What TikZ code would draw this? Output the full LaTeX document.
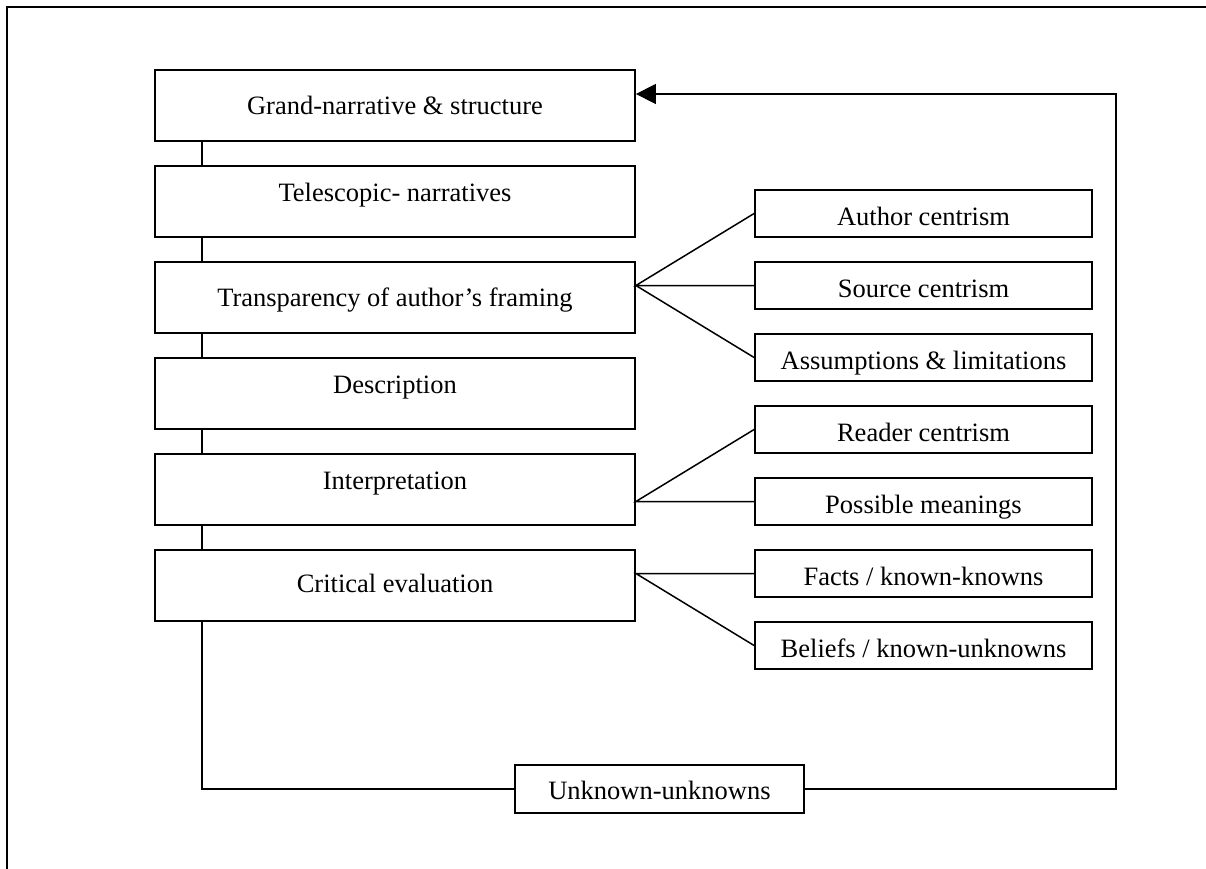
\documentclass[tikz,border=0pt]{standalone}
\usepackage{fontspec}
\setmainfont{Liberation Serif}
\usetikzlibrary{arrows.meta}
\begin{document}
\begin{tikzpicture}[x=1pt,y=-1pt,
  boxtext/.style={font=\fontsize{26.5}{30}\selectfont,text height=17.5pt,text depth=0pt,inner sep=0pt,align=center},
  mainbox/.style={draw,line width=1.8pt,boxtext,minimum width=480pt,minimum height=71pt},
  subbox/.style={draw,line width=1.8pt,boxtext,minimum width=337pt,minimum height=47pt},
  unkbox/.style={draw,line width=1.8pt,boxtext,minimum width=289pt,minimum height=48pt},
  link/.style={line width=1.5pt},
  frameline/.style={line width=2pt}]
\useasboundingbox (0,0) rectangle (1206,869);
\draw[frameline] (7,869) -- (7,7) -- (1206,7);

% main column
\node[mainbox] (m1) at (395,105.5) {Grand-narrative \& structure};
\node[mainbox] (m2) at (395,201.5) {\raisebox{9pt}{Telescopic- narratives}};
\node[mainbox] (m3) at (395,297.5) {Transparency of author’s framing};
\node[mainbox] (m4) at (395,393.5) {\raisebox{9pt}{Description}};
\node[mainbox] (m5) at (395,489.5) {\raisebox{9pt}{Interpretation}};
\node[mainbox] (m6) at (395,585.5) {\raisebox{1.5pt}{Critical evaluation}};

% side boxes
\node[subbox] (s1) at (923.5,213.5) {\raisebox{-3pt}{Author centrism}};
\node[subbox] (s2) at (923.5,285.5) {\raisebox{-3pt}{Source centrism}};
\node[subbox] (s3) at (923.5,357.5) {\raisebox{-3pt}{Assumptions \& limitations}};
\node[subbox] (s4) at (923.5,429.5) {\raisebox{-3pt}{Reader centrism}};
\node[subbox] (s5) at (923.5,501.5) {\raisebox{-3pt}{Possible meanings}};
\node[subbox] (s6) at (923.5,573.5) {\raisebox{-3pt}{Facts / known-knowns}};
\node[subbox] (s7) at (923.5,645.5) {\raisebox{-3pt}{Beliefs / known-unknowns}};

\node[unkbox] (u) at (659.5,789) {\raisebox{-2pt}{Unknown-unknowns}};

% vertical links between main boxes
\foreach \a/\b in {m1/m2,m2/m3,m3/m4,m4/m5,m5/m6}
  \draw[link] (\a.south west) ++(48,0) coordinate (top-\a) -- (top-\a |- \b.north);

% fans
\coordinate (f3) at (m3.east |- s2.west);
\draw[link] (s1.west) -- (f3) -- (s2.west);
\draw[link] (f3) -- (s3.west);
\coordinate (f5) at (m5.east |- s5.west);
\draw[link] (s4.west) -- (f5) -- (s5.west);
\coordinate (f6) at (m6.east |- s6.west);
\draw[link] (s6.west) -- (f6) -- (s7.west);

% feedback loop
\coordinate (loopstart) at ([xshift=48pt]m6.south west);
\draw[link] (loopstart) |- (u.west);
\coordinate (loopcorner) at (1116,789);
\coordinate (arrowrow) at (1116,94);
\draw[link,-{Triangle[length=20pt,width=20pt]}] (u.east) -- (loopcorner) -- (arrowrow) -- (arrowrow -| m1.east);
\end{tikzpicture}
\end{document}
